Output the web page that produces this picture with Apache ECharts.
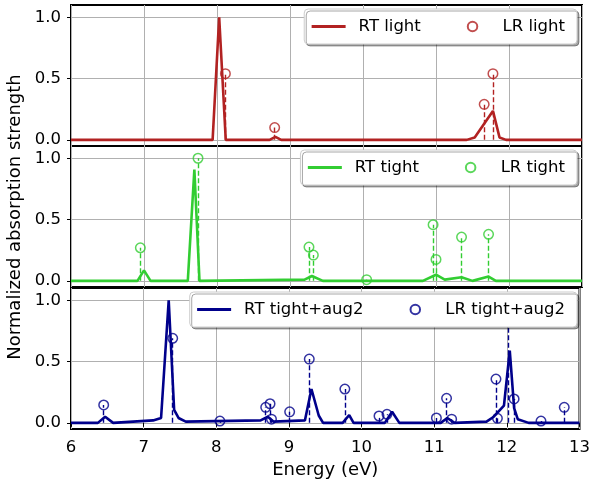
<!DOCTYPE html>
<html>
<head>
<meta charset="utf-8">
<script src="https://cdn.jsdelivr.net/npm/echarts@6/dist/echarts.min.js"></script>
<style>
    html, body { margin: 0; padding: 0; background: #fff; }
    #chart { width: 593px; height: 480px; }
</style>
</head>
<body>
<div id="chart"></div>
<script>

// x = energy (eV), y = normalized strength
var yTicks = [0, 0.5, 1.0];

var rtLight = [
    [6, 0], [7.94, 0], [8.03, 1.0], [8.12, 0], [8.72, 0], [8.8, 0.025], [8.88, 0],
    [11.42, 0], [11.53, 0.02], [11.78, 0.236], [11.87, 0.02], [11.96, 0], [13, 0]
];
var lrLight = [[8.115, 0.54], [8.79, 0.10], [11.66, 0.29], [11.78, 0.54]];

var rtTight = [
    [6, 0], [6.91, 0], [7.0, 0.086], [7.09, 0], [7.6, 0], [7.69, 0.908], [7.76, 0],
    [9.2, 0.01], [9.3, 0.04], [9.45, 0], [10.82, 0], [11.0, 0.05], [11.12, 0.01],
    [11.35, 0.03], [11.5, 0], [11.72, 0.035], [11.82, 0], [13, 0]
];
var lrTight = [
    [6.95, 0.27], [7.74, 1.0], [9.26, 0.276], [9.32, 0.21], [10.05, 0.01],
    [10.96, 0.458], [11.0, 0.175], [11.35, 0.357], [11.72, 0.38]
];

var rtAug = [
    [6, 0], [6.37, 0], [6.47, 0.05], [6.58, 0], [7.13, 0.02], [7.24, 0.04], [7.345, 1.0],
    [7.42, 0.105], [7.48, 0.04], [7.58, 0.01], [8.61, 0.02], [8.71, 0.05], [8.79, 0.01],
    [9.22, 0.02], [9.31, 0.276], [9.41, 0.06], [9.47, 0], [9.74, 0], [9.83, 0.064],
    [9.89, 0], [10.32, 0], [10.42, 0.09], [10.52, 0], [11.09, 0], [11.18, 0.04],
    [11.28, 0], [11.72, 0.01], [11.82, 0.05], [11.96, 0.14], [12.04, 0.59], [12.1, 0.12],
    [12.15, 0.03], [12.3, 0], [13, 0]
];
var lrAug = [
    [6.45, 0.146], [7.4, 0.69], [8.05, 0.015], [8.68, 0.127], [8.74, 0.156], [8.76, 0.03],
    [9.01, 0.09], [9.28, 0.52], [9.77, 0.276], [10.24, 0.056], [10.35, 0.07], [11.03, 0.04],
    [11.17, 0.2], [11.24, 0.03], [11.85, 0.357], [11.87, 0.037], [12.02, 1.0], [12.1, 0.195],
    [12.47, 0.015], [12.79, 0.127]
];

var panels = [
    { rt: 'RT light', lr: 'LR light', color: '#b22222', rtData: rtLight, lrData: lrLight, top: 5, legendTop: 9 },
    { rt: 'RT tight', lr: 'LR tight', color: '#32cd32', rtData: rtTight, lrData: lrTight, top: 146, legendTop: 150 },
    { rt: 'RT tight+aug2', lr: 'LR tight+aug2', color: '#00008b', rtData: rtAug, lrData: lrAug, top: 288, legendTop: 292 }
];

var font = 'DejaVu Sans';
var grids = [], xAxes = [], yAxes = [], series = [], legends = [];

panels.forEach(function (p, i) {
    var last = i === panels.length - 1;

    grids.push({
        left: 71, right: 11, top: p.top, height: 141,
        show: true, borderColor: '#000', borderWidth: 2
    });

    xAxes.push({
        type: 'value', gridIndex: i, min: 6, max: 13, interval: 1,
        axisLine: { show: false },
        axisTick: { show: last, length: 4, lineStyle: { color: '#000' } },
        axisLabel: { show: last, fontSize: 16.5, fontFamily: font, color: '#000', margin: 10 },
        splitLine: { show: true, lineStyle: { color: '#b0b0b0', width: 1 } },
        name: last ? 'Energy (eV)' : '',
        nameLocation: 'middle', nameGap: 32,
        nameTextStyle: { fontSize: 18, fontFamily: font, color: '#000' }
    });

    yAxes.push({
        type: 'value', gridIndex: i, min: -0.05, max: 1.1,
        axisLine: { show: false },
        axisTick: { show: true, length: 4, customValues: yTicks, lineStyle: { color: '#000' } },
        axisLabel: {
            customValues: yTicks, fontSize: 16.5, fontFamily: font, color: '#000', margin: 10,
            formatter: function (v) { return v.toFixed(1); }
        },
        splitLine: { show: true, lineStyle: { color: '#b0b0b0', width: 1 } }
    });

    series.push({
        name: p.rt, type: 'line', xAxisIndex: i, yAxisIndex: i,
        data: p.rtData, symbol: 'none', silent: true,
        lineStyle: { color: p.color, width: 2.6 },
        itemStyle: { color: p.color },
        z: 3
    });

    series.push({
        name: p.lr, type: 'scatter', xAxisIndex: i, yAxisIndex: i,
        data: p.lrData, symbol: 'circle', symbolSize: 9.5, silent: true,
        itemStyle: { color: 'rgba(255,255,255,0)', borderColor: p.color, borderWidth: 1.5 },
        z: 4,
        // dashed stems from the baseline up to each LR point
        markLine: {
            silent: true, symbol: ['none', 'none'], animation: false,
            label: { show: false },
            lineStyle: { color: p.color, type: [5, 2.5], width: 1.4 },
            data: p.lrData.map(function (d) {
                return [{ coord: [d[0], 0] }, { coord: [d[0], d[1]] }];
            })
        }
    });

    legends.push({
        // hide the dot that echarts puts on a line icon
        data: [
            { name: p.rt, itemStyle: { opacity: 0 }, lineStyle: { width: 2.8 } },
            { name: p.lr }
        ],
        right: 16, top: p.legendTop, z: 20,
        orient: 'horizontal',
        itemWidth: 34, itemHeight: 9.5, itemGap: 46,
        padding: [9, 12, 9, 6],
        backgroundColor: '#fff',
        borderColor: '#cccccc', borderWidth: 1, borderRadius: 4,
        shadowColor: 'rgba(0,0,0,0.35)', shadowBlur: 0, shadowOffsetX: 2, shadowOffsetY: 2,
        selectedMode: false,
        textStyle: { fontSize: 16.5, fontFamily: font, color: '#000', padding: [0, 0, 0, 8] }
    });
});

var chart = echarts.init(document.getElementById('chart'), null, { renderer: 'canvas' });
chart.setOption({
    animation: false,
    backgroundColor: '#fff',
    grid: grids,
    xAxis: xAxes,
    yAxis: yAxes,
    legend: legends,
    series: series,
    graphic: [{
        type: 'text', x: 15, y: 217, rotation: Math.PI / 2,
        style: {
            text: 'Normalized absorption strength', fontSize: 18, fontFamily: font,
            fill: '#000', textAlign: 'center', textVerticalAlign: 'middle'
        }
    }]
});
</script>
</body>
</html>
